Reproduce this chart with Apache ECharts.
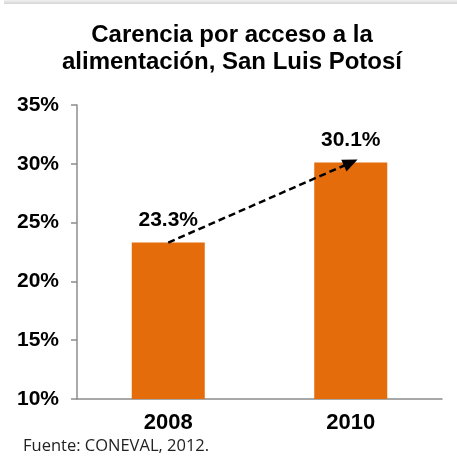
<!DOCTYPE html>
<html>
<head>
<meta charset="utf-8">
<script src="https://cdn.jsdelivr.net/npm/echarts@6/dist/echarts.min.js"></script>
<style>
  html, body { margin: 0; padding: 0; background: #fff; }
  #graph { width: 457px; height: 462px; }
</style>
</head>
<body>
<div id="graph"></div>
<script>
// data of the chart
var years = ['2008', '2010'];
var carencia = [23.3, 30.1];
var titleText = 'Carencia por acceso a la\nalimentación, San Luis Potosí';
var sourceText = 'Fuente: CONEVAL, 2012.';

var chart = echarts.init(document.getElementById('graph'));

var option = {
    animation: false,
    title: {
        text: titleText,
        left: 227,
        textAlign: 'center',
        top: 17,
        textStyle: {
            fontFamily: 'Liberation Sans, Arial',
            fontWeight: 'bold',
            fontSize: 24,
            lineHeight: 27,
            color: '#000'
        }
    },
    grid: {
        left: 77,
        right: 15,
        top: 105,
        bottom: 63
    },
    xAxis: {
        type: 'category',
        data: years,
        axisLine: { lineStyle: { color: '#8c8c8c', width: 1.5 } },
        axisTick: { length: 6, lineStyle: { color: '#8c8c8c', width: 1.5 } },
        axisLabel: {
            margin: 13,
            fontFamily: 'Liberation Sans, Arial',
            fontWeight: 'bold',
            fontSize: 22,
            color: '#000'
        }
    },
    yAxis: {
        type: 'value',
        min: 10,
        max: 35,
        interval: 5,
        splitLine: { show: false },
        axisLine: { show: true, lineStyle: { color: '#8c8c8c', width: 1.5 } },
        axisTick: { show: true, length: 6, lineStyle: { color: '#8c8c8c', width: 1.5 } },
        axisLabel: {
            formatter: '{value}%',
            margin: 18,
            fontFamily: 'Liberation Sans, Arial',
            fontWeight: 'bold',
            fontSize: 21,
            color: '#000'
        }
    },
    series: [{
        type: 'bar',
        data: carencia,
        barWidth: '40%',
        itemStyle: { color: '#E46C0A' },
        label: {
            show: true,
            position: 'top',
            distance: 12,
            formatter: '{c}%',
            fontFamily: 'Liberation Sans, Arial',
            fontWeight: 'bold',
            fontSize: 21,
            color: '#000'
        },
        // dashed arrow from the first bar top to the second bar top
        markLine: {
            silent: true,
            symbol: ['none', 'triangle'],
            symbolSize: [13, 15],
            label: { show: false },
            lineStyle: { color: '#000', type: [7, 4], width: 2.5 },
            data: [[
                { coord: [years[0], carencia[0]] },
                { coord: [years[1], carencia[1]] }
            ]]
        }
    }],
    graphic: [{
        type: 'rect',
        shape: { x: 4, y: 0, width: 453, height: 4 },
        style: {
            fill: new echarts.graphic.LinearGradient(0, 0, 0, 1, [
                { offset: 0, color: '#f2f2f2' },
                { offset: 1, color: '#d4d4d4' }
            ])
        }
    }, {
        type: 'text',
        left: 23,
        top: 438,
        style: {
            text: sourceText,
            fontFamily: 'Open Sans',
            fontSize: 16.5,
            fill: '#222'
        }
    }]
};

chart.setOption(option);
</script>
</body>
</html>
